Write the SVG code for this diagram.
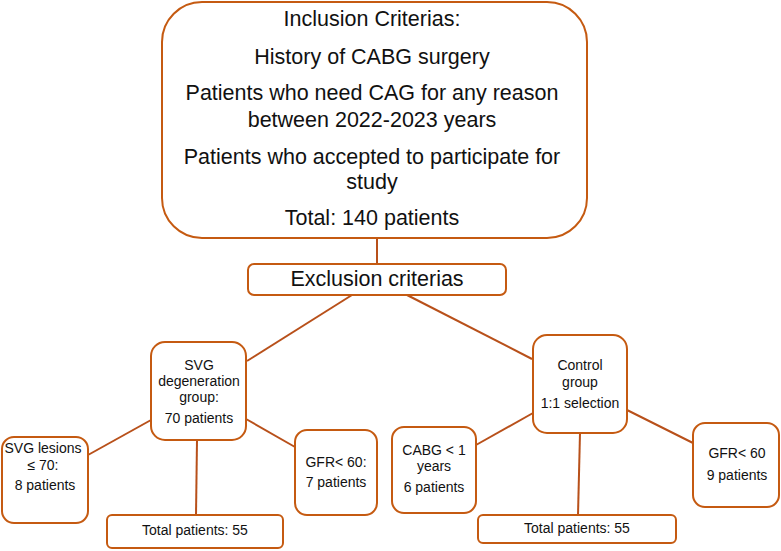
<svg xmlns="http://www.w3.org/2000/svg" width="781" height="551" viewBox="0 0 781 551">
<style>
.box{fill:#fff;stroke:#C55A11;stroke-width:2}
.ln{stroke:#B8501A;stroke-width:2;fill:none}
text{font-family:"Liberation Sans",Arial,sans-serif;fill:#111;text-anchor:middle;dominant-baseline:central}
.big{font-size:21.5px}
.sm{font-size:14px}
</style>
<rect width="781" height="551" fill="#fff"/>
<g id="connectors">
<line class="ln" x1="377" y1="238" x2="377" y2="264"/>
<line class="ln" x1="352" y1="295" x2="247" y2="361"/>
<line class="ln" x1="407" y1="295" x2="532" y2="359"/>
<line class="ln" x1="151" y1="420" x2="88" y2="455"/>
<line class="ln" x1="246" y1="419" x2="295" y2="447"/>
<line class="ln" x1="197" y1="440" x2="196" y2="515"/>
<line class="ln" x1="533" y1="413" x2="476" y2="445"/>
<line class="ln" x1="627" y1="410" x2="693" y2="443"/>
<line class="ln" x1="580" y1="433" x2="578" y2="515"/>
</g>
<g id="inclusion">
<rect class="box" x="162" y="2" width="425" height="236" rx="40"/>
<text class="big" x="372" y="19">Inclusion Criterias:</text>
<text class="big" x="372" y="57">History of CABG surgery</text>
<text class="big" x="372" y="93">Patients who need CAG for any reason</text>
<text class="big" x="372" y="120">between 2022-2023 years</text>
<text class="big" x="372" y="157">Patients who accepted to participate for</text>
<text class="big" x="372" y="182">study</text>
<text class="big" x="372" y="218">Total: 140 patients</text>
</g>
<g id="exclusion">
<rect class="box" x="248" y="264" width="258" height="31" rx="6"/>
<text class="big" x="377" y="279">Exclusion criterias</text>
</g>
<g id="svg-group">
<rect class="box" x="151" y="342" width="95" height="98" rx="14"/>
<text class="sm" x="199" y="365">SVG</text>
<text class="sm" x="199" y="381">degeneration</text>
<text class="sm" x="199" y="397">group:</text>
<text class="sm" x="199" y="418">70 patients</text>
</g>
<g id="svg-lesions">
<rect class="box" x="2" y="437" width="86" height="86" rx="12"/>
<text class="sm" x="43" y="448">SVG lesions</text>
<text class="sm" x="43" y="465">≤ 70:</text>
<text class="sm" x="45" y="485">8 patients</text>
</g>
<g id="gfr-left">
<rect class="box" x="295" y="430" width="82" height="85" rx="12"/>
<text class="sm" x="336" y="462">GFR&lt; 60:</text>
<text class="sm" x="336" y="482">7 patients</text>
</g>
<g id="total-left">
<rect class="box" x="107" y="515" width="176" height="33" rx="5"/>
<text class="sm" x="195" y="530">Total patients: 55</text>
</g>
<g id="control-group">
<rect class="box" x="533" y="335" width="94" height="98" rx="14"/>
<text class="sm" x="580" y="365">Control</text>
<text class="sm" x="580" y="382">group</text>
<text class="sm" x="580" y="403">1:1 selection</text>
</g>
<g id="cabg">
<rect class="box" x="392" y="427" width="84" height="86" rx="12"/>
<text class="sm" x="434" y="450">CABG &lt; 1</text>
<text class="sm" x="434" y="466">years</text>
<text class="sm" x="434" y="487">6 patients</text>
</g>
<g id="gfr-right">
<rect class="box" x="693" y="423" width="86" height="84" rx="12"/>
<text class="sm" x="737" y="453">GFR&lt; 60</text>
<text class="sm" x="737" y="475">9 patients</text>
</g>
<g id="total-right">
<rect class="box" x="478" y="515" width="198" height="28" rx="5"/>
<text class="sm" x="577" y="528">Total patients: 55</text>
</g>
</svg>
